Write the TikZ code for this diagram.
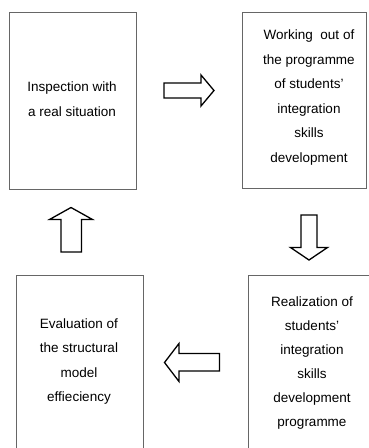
\documentclass[tikz,border=0pt]{standalone}
\usepackage{fontspec}
\setmainfont{Liberation Sans}
\begin{document}
\begin{tikzpicture}[x=1pt,y=-1pt,
  boxline/.style={draw=black!60, line width=0.8pt},
  blockarrow/.style={draw=black, line width=1.3pt, line join=miter},
  txt/.style={anchor=base, inner sep=0pt, font=\fontsize{13.5}{16}\selectfont}]
\useasboundingbox (0,0) rectangle (369,448);
\clip (0,0) rectangle (369,448);
% boxes
\draw[boxline] (9,12) rectangle (136,189);
\draw[boxline] (242,12) rectangle (366,188);
\draw[boxline] (16,275) rectangle (143,455);
\draw[boxline] (248,275) rectangle (380,455);
% block arrows
\draw[blockarrow] (164,83) -- (201,83) -- (201,75) -- (214,90.5) -- (201,106) -- (201,98) -- (164,98) -- cycle;
\draw[blockarrow] (61,252) -- (61,219.5) -- (49.5,219.5) -- (71,207.5) -- (92.5,219.5) -- (81.5,219.5) -- (81.5,252) -- cycle;
\draw[blockarrow] (301,215) -- (317,215) -- (317,247.5) -- (327.5,247.5) -- (309,260) -- (290.5,247.5) -- (301,247.5) -- cycle;
\draw[blockarrow] (219.5,353.5) -- (179,353.5) -- (179,343.5) -- (164.5,362.5) -- (179,381.5) -- (179,371) -- (219.5,371) -- cycle;
% texts
\node[txt] (a1) at (72,91.7) {Inspection with};
\node[txt] (a2) at (72,116) {a real situation};
\node[txt] (b1) at (309,39.5) {Working\ \ out of};
\node[txt] (b2) at (309,64) {the programme};
\node[txt] (b3) at (309,88.5) {of students'};
\node[txt] (b4) at (309,113) {integration};
\node[txt] (b5) at (309,137.5) {skills};
\node[txt] (b6) at (309,162) {development};
\node[txt] (c1) at (79,328) {Evaluation of};
\node[txt] (c2) at (79,352.5) {the structural};
\node[txt] (c3) at (79,377) {model};
\node[txt] (c4) at (79,401.5) {effieciency};
\node[txt] (d1) at (312,306.5) {Realization of};
\node[txt] (d2) at (312,330.5) {students'};
\node[txt] (d3) at (312,354.5) {integration};
\node[txt] (d4) at (312,378.5) {skills};
\node[txt] (d5) at (312,402.5) {development};
\node[txt] (d6) at (312,426.5) {programme};
\end{tikzpicture}
\end{document}
